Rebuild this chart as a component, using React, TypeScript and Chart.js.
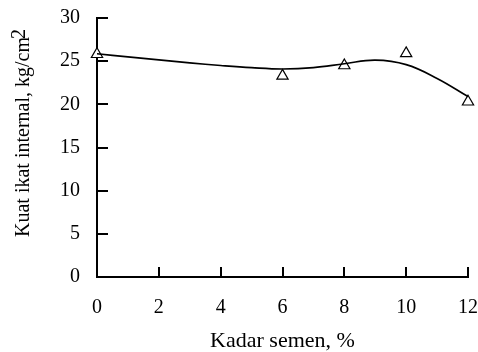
import React, { useEffect, useRef } from "react";
import { Chart, registerables } from "chart.js";

Chart.register(...registerables);

// Measured cement content (%) and internal bond strength (kg/cm2)
const cementContent = [0, 6, 8, 10, 12];
const bondStrength = [25.8, 23.3, 24.5, 25.9, 20.3];

// Fitted trend curve
const trendX = [0, 1, 2, 3, 4, 5, 6, 7, 8, 9, 10, 11, 12];
const trendY = [25.85, 25.5, 25.15, 24.8, 24.5, 24.25, 24.1, 24.25, 24.7, 25.12, 24.6, 23.0, 20.9];

const xTicks = [0, 2, 4, 6, 8, 10, 12];
const yTicks = [0, 5, 10, 15, 20, 25, 30];

const xTitle = "Kadar semen, %";
const yTitleMain = "Kuat ikat internal, kg/cm";
const yTitleSup = "2";

const FONT = "'Liberation Serif', 'Times New Roman', serif";

// Inward tick marks and axis titles
const axisDecor = {
  id: "axisDecor",
  beforeDatasetsDraw(chart: any) {
    const { ctx, chartArea, scales } = chart;
    ctx.save();
    ctx.strokeStyle = "#000";
    ctx.lineWidth = 2;
    ctx.beginPath();
    for (const v of yTicks) {
      const y = Math.round(scales.y.getPixelForValue(v));
      ctx.moveTo(chartArea.left, y);
      ctx.lineTo(chartArea.left + 11, y);
    }
    for (const v of xTicks) {
      const x = Math.round(scales.x.getPixelForValue(v));
      ctx.moveTo(x, chartArea.bottom);
      ctx.lineTo(x, chartArea.bottom - 10);
    }
    ctx.stroke();
    ctx.restore();
  },
  afterDraw(chart: any) {
    const { ctx, chartArea } = chart;
    ctx.save();
    ctx.fillStyle = "#000";
    ctx.font = `22px ${FONT}`;
    ctx.textAlign = "center";
    ctx.textBaseline = "alphabetic";
    ctx.fillText(xTitle, (chartArea.left + chartArea.right) / 2, 347);

    ctx.font = `20px ${FONT}`;
    const mainW = ctx.measureText(yTitleMain).width;
    const supW = ctx.measureText(yTitleSup).width;
    const total = mainW + supW - 2;
    ctx.translate(29, 133);
    ctx.rotate(-Math.PI / 2);
    ctx.textAlign = "left";
    ctx.fillText(yTitleMain, -total / 2, 0);
    ctx.fillText(yTitleSup, -total / 2 + mainW - 2, -4);
    ctx.restore();
  },
};

export default function App() {
  const canvasRef = useRef<HTMLCanvasElement | null>(null);

  useEffect(() => {
    document.body.style.margin = "0";
    const canvas = canvasRef.current;
    if (!canvas) return;
    const chart = new Chart(canvas, {
      type: "scatter",
      data: {
        datasets: [
          {
            type: "line",
            data: trendX.map((x, i) => ({ x, y: trendY[i] })),
            borderColor: "#000",
            borderWidth: 1.6,
            pointRadius: 0,
            tension: 0.4,
            fill: false,
            clip: false,
          },
          {
            data: cementContent.map((x, i) => ({ x, y: bondStrength[i] })),
            pointStyle: "triangle",
            pointRadius: 6.5,
            pointBackgroundColor: "#fff",
            pointBorderColor: "#000",
            pointBorderWidth: 1.2,
            clip: false,
          },
        ],
      },
      options: {
        animation: false,
        responsive: false,
        events: [],
        layout: { autoPadding: false, padding: { top: 18, right: 10, left: 0, bottom: 0 } },
        plugins: { legend: { display: false }, tooltip: { enabled: false } },
        scales: {
          x: {
            type: "linear",
            min: 0,
            max: 12,
            afterFit: (s: any) => {
              s.height = 75;
              s.paddingLeft = 0;
              s.paddingRight = 0;
            },
            afterBuildTicks: (s: any) => {
              s.ticks = xTicks.map((v) => ({ value: v }));
            },
            grid: { display: false, drawTicks: false },
            border: { display: true, color: "#000", width: 2 },
            ticks: {
              color: "#000",
              padding: 19,
              font: { family: FONT, size: 20 },
            },
          },
          y: {
            type: "linear",
            min: 0,
            max: 30,
            afterFit: (s: any) => {
              s.width = 97;
              s.paddingTop = 0;
              s.paddingBottom = 0;
            },
            afterBuildTicks: (s: any) => {
              s.ticks = yTicks.map((v) => ({ value: v }));
            },
            grid: { display: false, drawTicks: false },
            border: { display: true, color: "#000", width: 2 },
            ticks: {
              color: "#000",
              padding: 17,
              font: { family: FONT, size: 20 },
            },
          },
        },
      },
      plugins: [axisDecor],
    });
    return () => chart.destroy();
  }, []);

  return (
    <div style={{ width: 478, height: 352, background: "#fff" }}>
      <canvas ref={canvasRef} width={478} height={352} />
    </div>
  );
}
